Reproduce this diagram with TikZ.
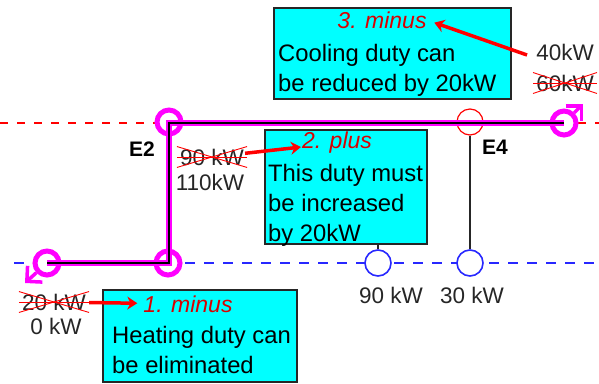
\documentclass[tikz,border=0pt]{standalone}
\usepackage{xcolor}
\usepackage{fontspec}
\setmainfont{Liberation Sans}
\usetikzlibrary{arrows.meta,positioning,calc}

\definecolor{hxpink}{RGB}{255,0,255}
\definecolor{hxcyan}{RGB}{0,255,255}
\definecolor{hxblue}{RGB}{40,40,255}

\begin{document}
\begin{tikzpicture}[
  x=1pt, y=-1pt,
  box/.style={draw=black!85, fill=hxcyan, line width=1.5pt, anchor=north west, inner sep=0pt},
  txt/.style={inner sep=0pt, align=left, anchor=west, font=\fontsize{23.8}{30}\selectfont},
  lab/.style={inner sep=0pt, align=center, text=black!85, font=\fontsize{22.5}{25}\selectfont},
  title/.style={inner sep=0pt, text=red!85!black, font=\fontsize{23}{30}\selectfont\itshape},
  unit/.style={font=\fontsize{21}{24}\selectfont\bfseries, inner sep=0pt},
  hotline/.style={draw=red, dash pattern=on 8pt off 9pt, line width=1.2pt},
  coldline/.style={draw=hxblue, dash pattern=on 10pt off 9pt, line width=1.6pt},
  hotcirc/.style={circle, draw=red, fill=white, line width=1.2pt, minimum size=26pt, inner sep=0pt},
  coldcirc/.style={circle, draw=hxblue, fill=white, line width=1.6pt, minimum size=26pt, inner sep=0pt},
  loopcirc/.style={circle, draw=hxpink, fill=white, line width=5pt, minimum size=24pt, inner sep=0pt},
  loopend/.style={draw=hxpink, line width=3.5pt, -{Straight Barb[length=11pt,width=22pt]}},
  strike/.style={draw=red, line width=0.9pt},
  arr/.style={draw=red, line width=3.5pt, -{Stealth[length=10pt,width=13pt]}}
]
\useasboundingbox (0,0) rectangle (599,383);

% streams
\coordinate (hotL) at (0,123);
\coordinate (hotR) at (599,123);
\coordinate (coldL) at (14,263);
\coordinate (coldR) at (599,263);
\draw[hotline] (hotL) -- (hotR);
\draw[coldline] (coldL) -- (coldR);

% exchangers
\node[loopcirc] (e2h) at (169,122) {};
\node[loopcirc] (e2c) at (168,263) {};
\node[loopcirc] (heater) at (47,263) {};
\node[loopcirc] (cooler) at (564,123) {};
\node[hotcirc] (e4h) at (470,122) {};
\node[coldcirc] (e4c) at (470,263) {};
\node[coldcirc] (e3c) at (378,263) {};

\coordinate (heaterend) at (25,283);
\coordinate (coolerend) at (583,104);
\draw[loopend] (heater) -- (heaterend);
\draw[loopend] (cooler) -- (coolerend);

% loop
\draw[hxpink, line width=5.5pt, line join=miter] (cooler.center) -- (e2h.center |- cooler.center) -- (e2h.center |- e2c.center) -- (heater.center);
\draw[black, line width=2pt, line join=miter] (cooler.center) -- (e2h.center |- cooler.center) -- (e2h.center |- e2c.center) -- (heater.center);
\draw[black!85, line width=1.5pt] (e4h) -- (e4c);

% boxes
\node[box, minimum width=237pt, minimum height=91pt] (box3) at (273,7) {};
\node[box, minimum width=162pt, minimum height=114pt] (box2) at (264,129) {};
\node[box, minimum width=194pt, minimum height=92pt] (box1) at (102,289) {};
\draw[black!85, line width=1.5pt] (e3c) -- (e3c |- box2.south);

\node[title] (minus3) at (382,20) {3. minus};
\node[txt] (text3) at (278,70) {Cooling duty can\\be reduced by 20kW};
\node[title] (plus2) at (337,143) {2. plus};
\node[txt] (text2) at (268,205) {This duty must\\be increased\\by 20kW};
\node[title] (minus1) at (188,304) {1. minus};
\node[txt] (text1) at (112,350) {Heating duty can\\be eliminated};

% labels
\node[unit] (e2) at (142,149) {E2};
\node[unit] (e4) at (495,147) {E4};
\node[lab] (old20) at (54,302) {20 kW};
\node[lab] (new0) at (56,326) {0 kW};
\node[lab] (old90) at (212,157) {90 kW};
\node[lab] (new110) at (210,182) {110kW};
\node[lab] (new40) at (565,52) {40kW};
\node[lab] (old60) at (565,83) {60kW};
\node[lab] (cold90) at (391,295) {90 kW};
\node[lab] (cold30) at (472,295) {30 kW};

% struck out values
\foreach \old in {old20,old90,old60} {
  \draw[strike] ($(\old.north west)+(-3,-2)$) -- ($(\old.south east)+(3,2)$);
  \draw[strike] ($(\old.south west)+(-3,2)$) -- ($(\old.north east)+(3,-2)$);
  \draw[strike] ($(\old.west)+(-3,0)$) -- ($(\old.east)+(3,0)$);
}

% changes
\draw[arr, shorten <=3pt, shorten >=6pt] (old20) -- (minus1);
\draw[arr, shorten <=1pt, shorten >=1pt] (old90) -- (plus2);
\draw[arr, shorten >=8pt] ($(new40.west)+(-9,3)$) -- (minus3.east);
\end{tikzpicture}
\end{document}
